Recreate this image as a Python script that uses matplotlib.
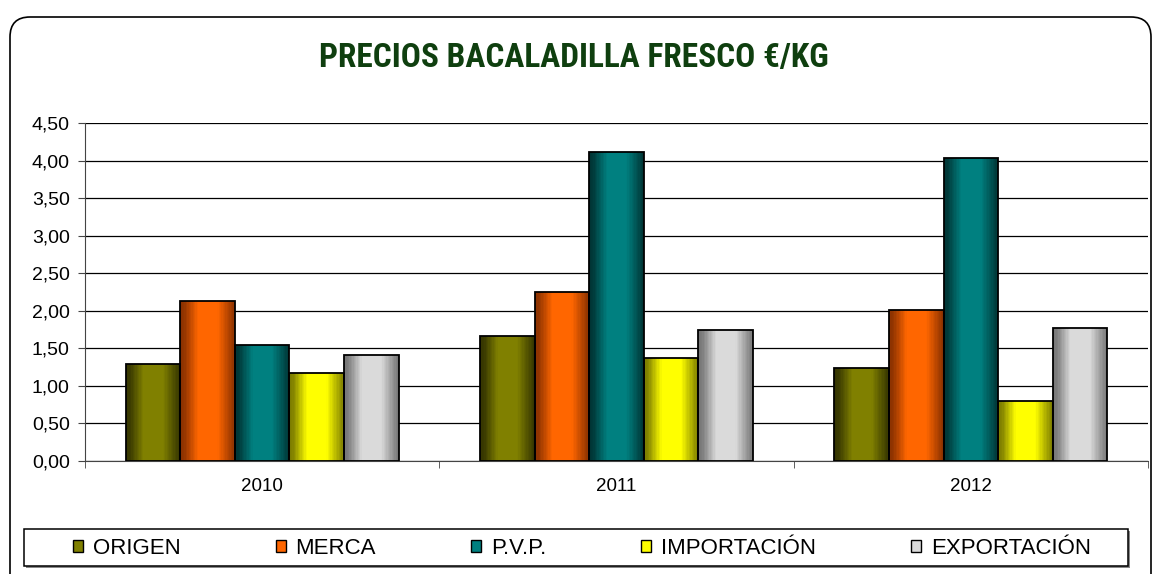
import numpy as np
import matplotlib
matplotlib.use('Agg')
import matplotlib.pyplot as plt
from matplotlib import font_manager
from matplotlib.patches import FancyBboxPatch, Patch, Rectangle
from matplotlib.colors import to_rgb
from matplotlib.ticker import FuncFormatter, MultipleLocator
from matplotlib.transforms import IdentityTransform

years = ['2010', '2011', '2012']
series = ['ORIGEN', 'MERCA', 'P.V.P.', 'IMPORTACIÓN', 'EXPORTACIÓN']
origen = [1.29, 1.66, 1.24]
merca = [2.13, 2.25, 2.01]
pvp = [1.55, 4.12, 4.04]
importacion = [1.17, 1.37, 0.80]
exportacion = [1.41, 1.75, 1.77]
values = [origen, merca, pvp, importacion, exportacion]

# (bright, dark) colours for the bar gradients
light = ['#808000', '#FF6600', '#008080', '#FFFF00', '#DADADA']
dark = ['#333300', '#883000', '#003333', '#7A7A00', '#747474']

plt.rcParams['font.family'] = ['Liberation Sans', 'DejaVu Sans']

# narrow bold face for the title if one is around
names = {f.name for f in font_manager.fontManager.ttflist}
if 'Liberation Sans Narrow' in names:
    title_font, title_size = 'Liberation Sans Narrow', 21.5
elif 'Roboto Condensed' in names:
    title_font, title_size = 'Roboto Condensed', 24
else:
    title_font, title_size = 'Liberation Sans', 19.5

fig = plt.figure(figsize=(11.54, 5.74), dpi=100)
ax = fig.add_axes([85 / 1154, 1 - 461 / 574, 1063 / 1154, 338 / 574])

# outer rounded frame (pixel coords)
frame = FancyBboxPatch((10, -30), 1141, 557 + 30,
                       boxstyle='round,pad=0,rounding_size=20',
                       transform=IdentityTransform(), fill=False,
                       edgecolor='black', linewidth=1.2)
fig.patches.append(frame)

x = np.arange(len(years))
n = len(series)
width = 0.77 / n

# horizontal shading: dark at both sides, bright in the middle
nstrip = 40
t = (np.arange(nstrip) + 0.5) / nstrip
prof = np.interp(t, [0, 0.08, 0.33, 0.68, 1], [0, 0.1, 1, 1, 0])

for i, (vals, lc, dc) in enumerate(zip(values, light, dark)):
    bars = ax.bar(x + (i - (n - 1) / 2) * width, vals, width,
                  facecolor='none', edgecolor='black', linewidth=1.3, zorder=3)
    lc_rgb = np.array(to_rgb(lc))
    dc_rgb = np.array(to_rgb(dc))
    grad = dc_rgb[None, :] + prof[:, None] * (lc_rgb - dc_rgb)[None, :]
    grad = grad[None, :, :]
    for b in bars:
        xe = np.linspace(b.get_x(), b.get_x() + b.get_width(), nstrip + 1)
        ax.pcolormesh(xe, [0, b.get_height()], grad, shading='flat',
                      edgecolors='none', linewidth=0, antialiased=False, zorder=2)

ax.set_xlim(-0.5, len(years) - 0.5)
ax.set_ylim(0, 4.5)
ax.yaxis.set_major_locator(MultipleLocator(0.5))
ax.yaxis.set_major_formatter(FuncFormatter(lambda v, p: f'{v:.2f}'.replace('.', ',')))
ax.grid(axis='y', color='black', linewidth=0.9, zorder=1)
ax.set_axisbelow(True)

ax.set_xticks(x)
ax.set_xticklabels(years)
ax.set_xticks(np.arange(len(years) + 1) - 0.5, minor=True)
ax.tick_params(axis='x', which='major', length=0, pad=12, labelsize=13.5)
ax.tick_params(axis='x', which='minor', length=5, direction='out', color='#444444')
ax.tick_params(axis='y', length=5, direction='out', labelsize=14, pad=6, color='#444444')
for s in ['top', 'right']:
    ax.spines[s].set_visible(False)
ax.spines['left'].set_color('#444444')
ax.spines['bottom'].set_color('#444444')

fig.text(574 / 1154, 1 - 58 / 574, 'PRECIOS BACALADILLA FRESCO €/KG', ha='center', va='center',
         fontsize=title_size, fontweight='bold', color='#0F3F0F',
         family=[title_font, 'DejaVu Sans'])

# legend box with a thin shadow
fig.patches.append(Rectangle((26, 574 - 568), 1104, 37, transform=IdentityTransform(),
                             facecolor='#888888', edgecolor='none'))
fig.patches.append(Rectangle((24, 574 - 566), 1104, 37, transform=IdentityTransform(),
                             facecolor='white', edgecolor='black', linewidth=1.1))

handles = [Patch(facecolor=c, edgecolor='black', linewidth=1) for c in light]
leg = fig.legend(handles, series, loc='center', ncol=5,
                 bbox_to_anchor=(582 / 1154, 1 - 548 / 574),
                 fontsize=16, frameon=False,
                 handlelength=0.45, handleheight=0.45, handletextpad=0.45,
                 columnspacing=4.27, borderpad=0)

fig.savefig('out.png', dpi=100)
